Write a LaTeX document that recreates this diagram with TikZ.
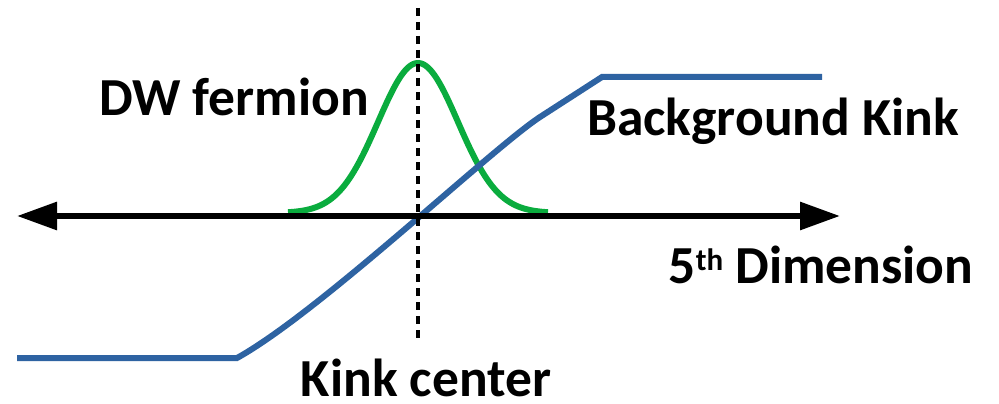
\documentclass[tikz,border=0pt]{standalone}
\usepackage{fontspec}
\setmainfont{Carlito}
\usetikzlibrary{arrows.meta}
\definecolor{kinkblue}{RGB}{46,99,162}
\definecolor{dwgreen}{RGB}{10,172,62}
\newcommand{\supth}{\raisebox{13pt}{\fontsize{31}{33}\selectfont th}}
\tikzset{
  lbl/.style={font=\fontsize{53.5}{60}\selectfont\bfseries, inner sep=0pt},
  axisline/.style={line width=6pt, {Triangle[length=40pt,width=27pt]}-{Triangle[length=40pt,width=27pt]}},
  kinkline/.style={kinkblue, line width=6pt, line join=miter},
  fermion/.style={dwgreen, line width=6pt},
  centerline/.style={line width=3.5pt, dash pattern=on 8pt off 6pt}
}
\begin{document}
\begin{tikzpicture}[x=1pt, y=-1pt]
  \useasboundingbox (0,0) rectangle (999,404);
  % coordinates
  \coordinate (axL) at (17,216);
  \coordinate (axR) at (840,216);
  \coordinate (ctop) at (418,8);
  \coordinate (cbot) at (418,338);
  \coordinate (k0) at (17,358);
  \coordinate (k1) at (237,358);
  \coordinate (k2) at (602,77);
  \coordinate (k3) at (822,77);
  % domain-wall fermion profile
  \draw[fermion] plot[domain=-130:130, samples=120, smooth]
    ({418+\x},{213-150*exp(-0.5*(\x/40)*(\x/40))});
  % background kink
  \draw[kinkline] (k0) -- (k1) .. controls (320,312) and (490,150) .. (540,117) -- (k2) -- (k3);
  % extra dimension axis
  \draw[axisline] (axL) -- (axR);
  % kink centre marker
  \draw[centerline] (ctop) -- (cbot);
  % labels
  \node[lbl] (dw) at (234,97) {DW fermion};
  \node[lbl] (bg) at (773,121) {Background Kink};
  \node[lbl] (dim) at (821,265) {5\supth\ Dimension};
  \node[lbl] (kc) at (426,378) {Kink center};
\end{tikzpicture}
\end{document}
